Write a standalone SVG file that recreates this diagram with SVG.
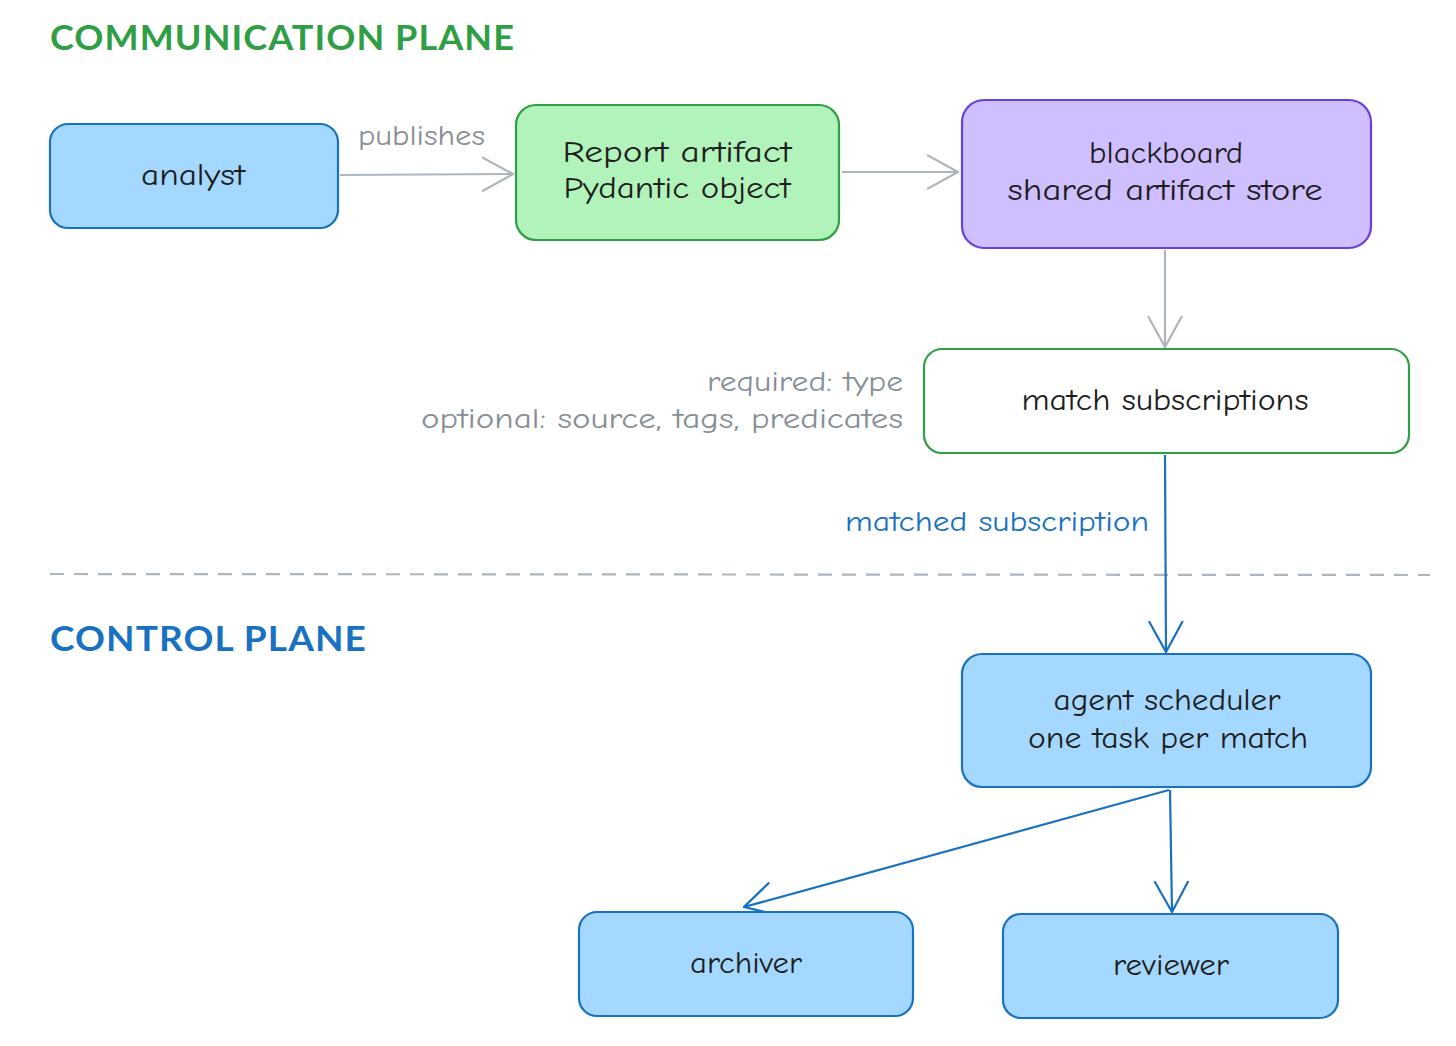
<svg xmlns="http://www.w3.org/2000/svg" width="1456" height="1046" viewBox="0 0 1456 1046">
<style>
.node rect{stroke-width:2.2}
.blue rect{fill:#a5d8ff;stroke:#1971c2}
.green rect{fill:#b2f2bb;stroke:#2f9e44}
.violet rect{fill:#d0bfff;stroke:#6741d9}
.white rect{fill:#ffffff;stroke:#2f9e44}
.lbl{font-family:"Comic Neue","Lato","Noto Sans",sans-serif;font-size:31px;fill:#1e1e1e;text-anchor:middle}
.note{font-family:"Comic Neue","Lato","Noto Sans",sans-serif;font-size:29px;fill:#868e96}
.title{font-family:"Lato","Noto Sans",sans-serif;font-size:34px;font-weight:bold;letter-spacing:1px}
.gray{stroke:#adb5bd;stroke-width:2.2;fill:none}
.bl{stroke:#1971c2;stroke-width:2.2;fill:none}
</style>
<defs>
<marker id="ag" viewBox="0 0 32 40" refX="31" refY="20" markerWidth="32" markerHeight="40" markerUnits="userSpaceOnUse" orient="auto"><path d="M0,3 L31,20 L0,37" fill="none" stroke="#adb5bd" stroke-width="2.2"/></marker>
<marker id="ab" viewBox="0 0 32 40" refX="31" refY="20" markerWidth="32" markerHeight="40" markerUnits="userSpaceOnUse" orient="auto"><path d="M0,3 L31,20 L0,37" fill="none" stroke="#1971c2" stroke-width="2.2"/></marker>
</defs>
<rect width="1456" height="1046" fill="#ffffff"/>
<text class="title" x="50" y="50" fill="#2f9e44" textLength="465" lengthAdjust="spacingAndGlyphs">COMMUNICATION PLANE</text>
<text class="title" x="50" y="651" fill="#1971c2" textLength="317" lengthAdjust="spacingAndGlyphs">CONTROL PLANE</text>
<line x1="50" y1="574" x2="1430" y2="575" stroke="#adb5bd" stroke-width="2.2" stroke-dasharray="14 10"/>
<g id="connectors">
<path class="gray" d="M340,175 L513,174" marker-end="url(#ag)"/>
<path class="gray" d="M842,172 L958,172" marker-end="url(#ag)"/>
<path class="gray" d="M1165,250 L1165,347" marker-end="url(#ag)"/>
<path class="bl" d="M1165,455 L1166,652" marker-end="url(#ab)"/>
<path class="bl" d="M1169,790 L744,907" marker-end="url(#ab)"/>
<path class="bl" d="M1170,790 L1172,912" marker-end="url(#ab)"/>
<text class="note" x="358" y="145" textLength="127" lengthAdjust="spacingAndGlyphs">publishes</text>
<text class="note" x="707" y="391" textLength="196" lengthAdjust="spacingAndGlyphs">required: type</text>
<text class="note" x="421" y="428" textLength="482" lengthAdjust="spacingAndGlyphs">optional: source, tags, predicates</text>
<text class="note" x="845" y="531" style="fill:#1971c2" textLength="304" lengthAdjust="spacingAndGlyphs">matched subscription</text>
</g>
<g id="analyst" class="node blue"><rect x="50" y="124" width="288" height="104" rx="18"/><text class="lbl" x="193" y="185" textLength="104" lengthAdjust="spacingAndGlyphs">analyst</text></g>
<g id="report" class="node green"><rect x="516" y="105" width="323" height="135" rx="20"/><text class="lbl" x="677" y="162" textLength="229" lengthAdjust="spacingAndGlyphs">Report artifact</text><text class="lbl" x="677" y="198" textLength="227" lengthAdjust="spacingAndGlyphs">Pydantic object</text></g>
<g id="blackboard" class="node violet"><rect x="962" y="100" width="409" height="148" rx="22"/><text class="lbl" x="1166" y="163" textLength="154" lengthAdjust="spacingAndGlyphs">blackboard</text><text class="lbl" x="1165" y="200" textLength="315" lengthAdjust="spacingAndGlyphs">shared artifact store</text></g>
<g id="match" class="node white"><rect x="924" y="349" width="485" height="104" rx="18"/><text class="lbl" x="1165" y="410" textLength="287" lengthAdjust="spacingAndGlyphs">match subscriptions</text></g>
<g id="scheduler" class="node blue"><rect x="962" y="654" width="409" height="133" rx="20"/><text class="lbl" x="1167" y="710" textLength="227" lengthAdjust="spacingAndGlyphs">agent scheduler</text><text class="lbl" x="1168" y="748" textLength="280" lengthAdjust="spacingAndGlyphs">one task per match</text></g>
<g id="archiver" class="node blue"><rect x="579" y="912" width="334" height="104" rx="18"/><text class="lbl" x="746" y="973" textLength="112" lengthAdjust="spacingAndGlyphs">archiver</text></g>
<g id="reviewer" class="node blue"><rect x="1003" y="914" width="335" height="104" rx="18"/><text class="lbl" x="1171" y="975" textLength="116" lengthAdjust="spacingAndGlyphs">reviewer</text></g>
</svg>
